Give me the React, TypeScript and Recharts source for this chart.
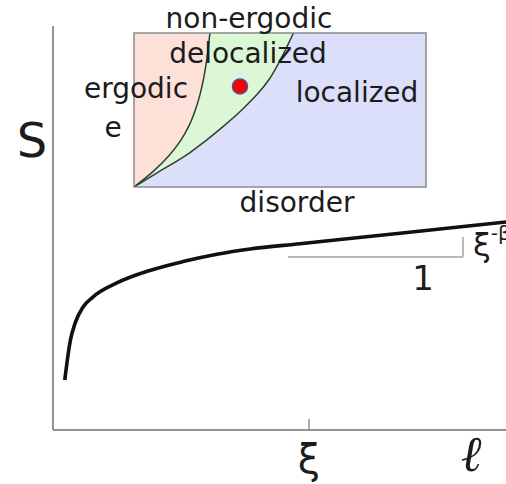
import React from 'react';
import {
  ComposedChart,
  Line,
  Area,
  XAxis,
  YAxis,
  ReferenceLine,
  ReferenceDot,
  ReferenceArea,
  CartesianGrid,
} from 'recharts';

// Entanglement S versus subsystem size ℓ
const ellValues = [0.26, 0.38, 0.49, 0.66, 0.88, 1.41, 2.14, 2.87, 3.62, 4.35, 5.45, 7.66, 10];
const entropyValues = [1.24, 2.2, 2.65, 3.04, 3.29, 3.64, 3.95, 4.17, 4.35, 4.48, 4.61, 4.87, 5.15];

// x-axis marks
const tickValues = [5.65, 9.23];
const tickLabels = ['ξ', 'ℓ'];

// slope guide: horizontal run and vertical rise
const slopeRunX = [5.19, 9.05];
const slopeRunY = 4.28;
const slopeRiseTop = 4.78;

// Phase diagram (energy e vs disorder W)
const energyLevels = [0, 0.1, 0.2, 0.3, 0.4, 0.5, 0.6, 0.7, 0.8, 0.9, 1.0];
const ergodicEdge = [0, 0.065, 0.118, 0.159, 0.189, 0.21, 0.226, 0.238, 0.247, 0.254, 0.26];
const localizedEdge = [0, 0.086, 0.174, 0.245, 0.31, 0.369, 0.421, 0.463, 0.494, 0.521, 0.546];
const marker = { W: 0.363, e: 0.653 };

// Phase labels (x, baseline y within the inset)
const phaseLabels = [
  { text: 'non-ergodic', x: 179, y: 28 },
  { text: 'delocalized', x: 178, y: 63 },
  { text: 'ergodic', x: 66, y: 98 },
  { text: 'e', x: 43, y: 137 },
  { text: 'localized', x: 287, y: 102 },
  { text: 'disorder', x: 227, y: 212 },
];

const curveData = ellValues.map((l, i) => ({ l, S: entropyValues[i] }));
const phaseData = energyLevels.map((e, i) => ({ e, w1: ergodicEdge[i], w2: localizedEdge[i] }));

const axisGray = '#8f968c';
const guideGray = '#b4bbb1';
const textColor = '#1c1c1c';
const sans = 'DejaVu Sans, Verdana, sans-serif';

const AxisTick = (props: any) => {
  const { x, payload } = props;
  const idx = tickValues.indexOf(payload.value);
  const isEll = idx === 1;
  return (
    <text
      x={x}
      y={isEll ? 471 : 473}
      textAnchor="middle"
      fill={textColor}
      fontSize={isEll ? 50 : 40}
      fontFamily={isEll ? 'DejaVu Serif, serif' : sans}
      fontStyle={isEll ? 'italic' : 'normal'}
    >
      {tickLabels[idx]}
    </text>
  );
};

function MainChart() {
  return (
    <ComposedChart
      width={506}
      height={484}
      data={curveData}
      margin={{ top: 26, right: 0, bottom: 0, left: 0 }}
    >
      <XAxis
        dataKey="l"
        type="number"
        domain={[0, 10]}
        ticks={tickValues}
        tick={<AxisTick />}
        tickLine={false}
        height={54}
        axisLine={{ stroke: axisGray, strokeWidth: 2 }}
        allowDataOverflow
      />
      <YAxis
        type="number"
        domain={[0, 10]}
        width={53}
        tick={false}
        tickLine={false}
        axisLine={{ stroke: axisGray, strokeWidth: 2 }}
        allowDataOverflow
      />
      <ReferenceLine
        segment={[{ x: tickValues[0], y: 0 }, { x: tickValues[0], y: 0.27 }]}
        stroke={axisGray}
        strokeWidth={1.5}
      />
      <ReferenceLine
        segment={[{ x: slopeRunX[0], y: slopeRunY }, { x: slopeRunX[1], y: slopeRunY }]}
        stroke={guideGray}
        strokeWidth={2}
      />
      <ReferenceLine
        segment={[{ x: slopeRunX[1], y: slopeRunY }, { x: slopeRunX[1], y: slopeRiseTop }]}
        stroke={guideGray}
        strokeWidth={2}
      />
      <Line
        dataKey="S"
        type="monotone"
        stroke="#111"
        strokeWidth={3.6}
        dot={false}
        isAnimationActive={false}
      />
      <text x={32} y={157} textAnchor="middle" fontSize={48} fontFamily={sans} fill={textColor}>
        S
      </text>
      <text x={423} y={290} textAnchor="middle" fontSize={34} fontFamily={sans} fill={textColor}>
        1
      </text>
      <text x={473} y={256} fontSize={32} fontFamily={sans} fill={textColor}>
        ξ
        <tspan dy={-16} fontSize={20}>
          -β
        </tspan>
      </text>
    </ComposedChart>
  );
}

function PhaseInset() {
  return (
    <ComposedChart
      width={370}
      height={220}
      layout="vertical"
      data={phaseData}
      margin={{ top: 33, right: 14, bottom: 33, left: 64 }}
    >
      <CartesianGrid fill="#dcdff9" horizontal={false} vertical={false} stroke="none" />
      <XAxis type="number" domain={[0, 1]} hide allowDataOverflow />
      <YAxis type="number" dataKey="e" domain={[0, 1]} reversed hide allowDataOverflow />
      <Area
        dataKey="w2"
        type="monotone"
        fill="#dbf7d6"
        fillOpacity={1}
        stroke="#2f3f30"
        strokeWidth={1.5}
        isAnimationActive={false}
      />
      <Area
        dataKey="w1"
        type="monotone"
        fill="#fde1d9"
        fillOpacity={1}
        stroke="#2f3f30"
        strokeWidth={1.5}
        isAnimationActive={false}
      />
      <ReferenceArea x1={0} x2={1} y1={0} y2={1} fill="none" stroke="#8a8a8a" strokeWidth={1.5} />
      <ReferenceDot x={marker.W} y={marker.e} r={7.5} fill="#ff0000" stroke="#5a4a9a" strokeWidth={1.5} />
    </ComposedChart>
  );
}

function PhaseLabels() {
  return (
    <svg width={370} height={220} style={{ position: 'absolute', left: 0, top: 0, pointerEvents: 'none' }}>
      {phaseLabels.map((p) => (
        <text
          key={p.text}
          x={p.x}
          y={p.y}
          textAnchor="middle"
          fontFamily={sans}
          fontSize={28}
          fill={textColor}
        >
          {p.text}
        </text>
      ))}
    </svg>
  );
}

export default function App() {
  return (
    <div style={{ position: 'absolute', left: 0, top: 0, width: 506, height: 484, background: '#fff' }}>
      <MainChart />
      <div style={{ position: 'absolute', left: 70, top: 0, width: 370, height: 220 }}>
        <PhaseInset />
        <PhaseLabels />
      </div>
    </div>
  );
}
